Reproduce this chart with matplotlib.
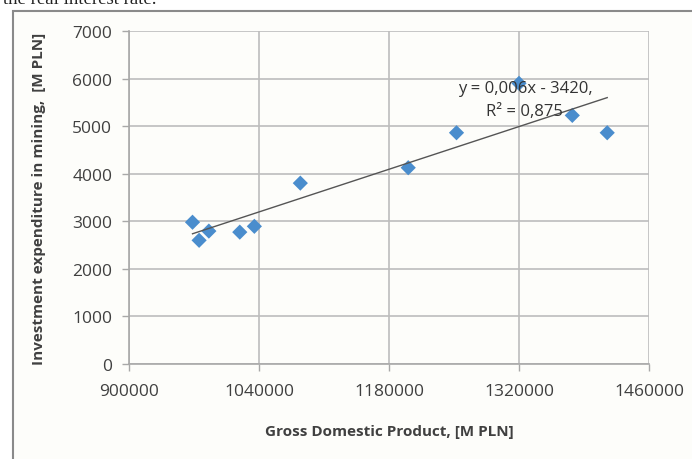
import numpy as np
from matplotlib import pyplot as plt
from matplotlib.patches import Rectangle

# GDP [M PLN] vs investment expenditure in mining [M PLN]
gdp = [968400, 975500, 986000, 1019300, 1035000, 1084500,
       1200700, 1252700, 1320000, 1377400, 1415000]
invest = [2980, 2600, 2794, 2772, 2894, 3802,
          4126, 4861, 5900, 5226, 4861]

x_ticks = [900000, 1040000, 1180000, 1320000, 1460000]
y_ticks = [0, 1000, 2000, 3000, 4000, 5000, 6000, 7000]

eq_label = 'y = 0,006x - 3420,'
r2_label = 'R² = 0,875'

plt.rcParams['font.family'] = ['Open Sans', 'DejaVu Sans']

fig = plt.figure(figsize=(6.92, 4.60), dpi=100)
fig.patch.set_facecolor('white')

# chart frame (runs off the right and bottom of the crop)
fig.patches.append(Rectangle((13 / 692, -0.05), 1.0, 1 - 12 / 460 + 0.05,
                             transform=fig.transFigure, facecolor='#fdfdfa',
                             edgecolor='#8a8a8a', linewidth=1.5, zorder=-5))

# leftover caption line from the page above, cut off at the top
fig.text(3 / 692, 1 - 4.5 / 460, 'the real interest rate.', family='Liberation Serif',
         fontsize=13.5, color='#222222', ha='left', va='baseline')

ax = fig.add_axes([129 / 692, 1 - 365 / 460, 520 / 692, 333 / 460])
ax.set_facecolor('none')

ax.scatter(gdp, invest, marker='D', s=60, color='#4a8dcd', edgecolors='none', zorder=3)

# linear trend line
k, b = np.polyfit(gdp, invest, 1)
xs = np.array([min(gdp), max(gdp)])
ax.plot(xs, k * xs + b, color='#555555', linewidth=1.0, zorder=4)

ax.text(0.762, 0.829, eq_label, transform=ax.transAxes, ha='center', va='center',
        fontsize=12, color='#333333', zorder=5)
ax.text(0.760, 0.760, r2_label, transform=ax.transAxes, ha='center', va='center',
        fontsize=12, color='#333333', zorder=5)

ax.set_xlim(900000, 1460000)
ax.set_ylim(0, 7000)
ax.set_xticks(x_ticks)
ax.set_yticks(y_ticks)
ax.set_xticklabels([str(v) for v in x_ticks])
ax.set_yticklabels([str(v) for v in y_ticks])

ax.grid(True, color='#bdbdbd', linewidth=1.2)
ax.set_axisbelow(True)
for s in ['top', 'right']:
    ax.spines[s].set_visible(False)
for s in ['left', 'bottom']:
    ax.spines[s].set_color('#a8a8a8')
    ax.spines[s].set_linewidth(1.2)

ax.tick_params(axis='both', direction='out', length=5, width=1.0, color='#a8a8a8',
               labelsize=12.5, labelcolor='#404040')
ax.tick_params(axis='x', pad=9)
ax.tick_params(axis='y', pad=7)

ax.set_xlabel('Gross Domestic Product, [M PLN]', fontsize=11, fontweight='bold',
              color='#404040', labelpad=18)
ax.set_ylabel('Investment expenditure in mining,  [M PLN]', fontsize=11,
              fontweight='bold', color='#404040', labelpad=19)

fig.savefig('out.png', dpi=100)
